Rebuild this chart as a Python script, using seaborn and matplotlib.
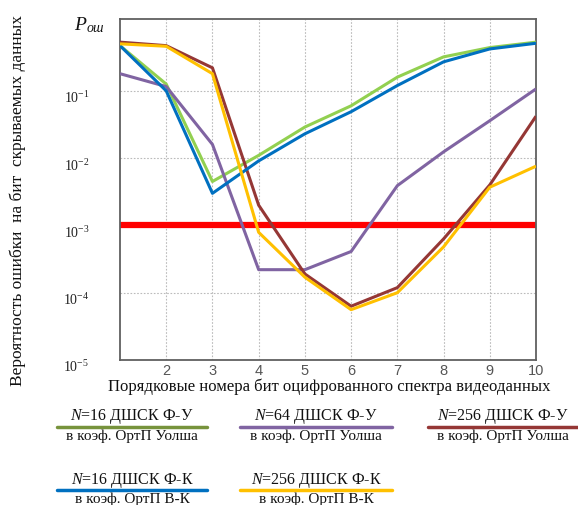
import numpy as np
import pandas as pd
import matplotlib
matplotlib.use("Agg")
import matplotlib.pyplot as plt
import matplotlib.ticker as mticker
import matplotlib.transforms as mtrans
from matplotlib.lines import Line2D
import seaborn as sns

# ---- data ----
bits = [1, 2, 3, 4, 5, 6, 7, 8, 9, 10]
n16_fu = [0.47, 0.126, 0.0045, 0.011, 0.029, 0.06, 0.16, 0.32, 0.44, 0.53]
n16_fk = [0.47, 0.10, 0.003, 0.0091, 0.023, 0.049, 0.12, 0.27, 0.42, 0.51]
n64_fu = [0.18, 0.116, 0.016, 2.2e-4, 2.2e-4, 4.1e-4, 0.0039, 0.0124, 0.036, 0.107]
n256_fu = [0.53, 0.47, 0.22, 0.002, 1.9e-4, 6.3e-5, 1.19e-4, 6.3e-4, 0.004, 0.042]
n256_fk = [0.50, 0.46, 0.18, 7.9e-4, 1.7e-4, 5.6e-5, 1.0e-4, 4.8e-4, 0.0037, 0.0076]
threshold = [1e-3] * len(bits)

series_names = ["n16_fu", "n64_fu", "n256_fu", "n16_fk", "n256_fk"]
series_vals = [n16_fu, n64_fu, n256_fu, n16_fk, n256_fk]
plot_colors = ["#92D050", "#8064A2", "#953735", "#0070C0", "#FFC000"]
legend_colors = ["#77933C", "#8064A2", "#953735", "#0070C0", "#FFC000"]
legend_top = ["=16 ДШСК Ф-У", "=64 ДШСК Ф-У", "=256 ДШСК Ф-У",
              "=16 ДШСК Ф-К", "=256 ДШСК Ф-К"]
legend_bot = ["в коэф. ОртП Уолша", "в коэф. ОртП Уолша", "в коэф. ОртП Уолша",
              "в коэф. ОртП В-К", "в коэф. ОртП В-К"]
ytick_vals = [1e-5, 1e-4, 1e-3, 1e-2, 1e-1]
ytick_labels = ["$10^{-5}$", "$10^{-4}$", "$10^{-3}$", "$10^{-2}$", "$10^{-1}$"]
xtick_vals = [2, 3, 4, 5, 6, 7, 8, 9, 10]

sns.set_theme(style="white")
plt.rcParams["font.family"] = ["Liberation Serif", "DejaVu Serif"]
plt.rcParams["mathtext.fontset"] = "custom"
plt.rcParams["mathtext.rm"] = "Liberation Serif"
plt.rcParams["mathtext.it"] = "Liberation Serif:italic"

W, H = 578, 505
fig = plt.figure(figsize=(W / 100, H / 100), dpi=100)
ax = fig.add_axes([120 / W, 1 - 360 / H, (536 - 120) / W, (360 - 19) / H])

df = pd.DataFrame({"bit": bits * len(series_names),
                   "p": sum(series_vals, []),
                   "series": sum([[n] * len(bits) for n in series_names], [])})

sns.lineplot(data=pd.DataFrame({"bit": bits, "p": threshold}), x="bit", y="p",
             color="#FF0000", linewidth=4.5, ax=ax, zorder=2)
for name, col in zip(series_names, plot_colors):
    sub = df[df.series == name]
    sns.lineplot(data=sub, x="bit", y="p", color=col, linewidth=2.2, ax=ax,
                 zorder=3, solid_capstyle="butt")

ax.set_yscale("log")
ax.set_xlim(1, 10)
ax.set_ylim(1e-5, 1.17)
ax.set_xticks(xtick_vals)
ax.xaxis.set_minor_locator(mticker.NullLocator())
ax.yaxis.set_minor_locator(mticker.NullLocator())
ax.set_yticks(ytick_vals)
ax.set_yticklabels(ytick_labels)
ax.tick_params(axis="y", length=0, pad=22, labelsize=10, colors="#222222")
ax.tick_params(axis="x", length=0, pad=3, labelsize=10.5, colors="#555555")
for lab in ax.get_xticklabels():
    lab.set_family(["Liberation Sans", "DejaVu Sans"])
for lab in ax.get_yticklabels():
    lab.set_transform(lab.get_transform() + mtrans.ScaledTranslation(0, -6 / 100, fig.dpi_scale_trans))

ax.grid(True, which="major", linestyle=(0, (1.5, 1.5)), color="#BBBBBB", linewidth=0.8)
for s in ax.spines.values():
    s.set_color("#606060")
    s.set_linewidth(1.3)
ax.set_xlabel("")
ax.set_ylabel("")

# axis titles
fig.text(329 / W, 1 - 387 / H, "Порядковые номера бит оцифрованного спектра видеоданных",
         ha="center", va="center", fontsize=12, color="#111111")
fig.text(18 / W, 1 - 200 / H, "Вероятность ошибки  на бит  скрываемых данных",
         ha="center", va="center", rotation=90, fontsize=12.5, color="#111111")
fig.text(74 / W, 1 - 25 / H, "P", ha="left", va="center", fontsize=14,
         style="italic", color="#111111")
fig.text(87 / W, 1 - 29 / H, "ош", ha="left", va="center", fontsize=10,
         style="italic", color="#111111")

# custom legend
col_x = [(57, 207), (240, 392), (428, 578)]
rows = [(417, 426.5, 436), (481, 489.5, 499)]
positions = [(0, 0), (0, 1), (0, 2), (1, 0), (1, 1)]
for i, (r, c) in enumerate(positions):
    x0, x1 = col_x[c]
    ty, ly, by = rows[r]
    xc = (x0 + x1) / 2
    fig.add_artist(Line2D([x0 / W, x1 / W], [1 - ly / H, 1 - ly / H],
                          color=legend_colors[i], linewidth=2.5, transform=fig.transFigure))
    fig.text(xc / W, 1 - ty / H, "$\\mathit{N}$" + legend_top[i], ha="center",
             va="center", fontsize=11.5, color="#111111")
    fig.text(xc / W, 1 - by / H, legend_bot[i], ha="center", va="center",
             fontsize=11, color="#111111")

fig.savefig("out.png", dpi=100)
